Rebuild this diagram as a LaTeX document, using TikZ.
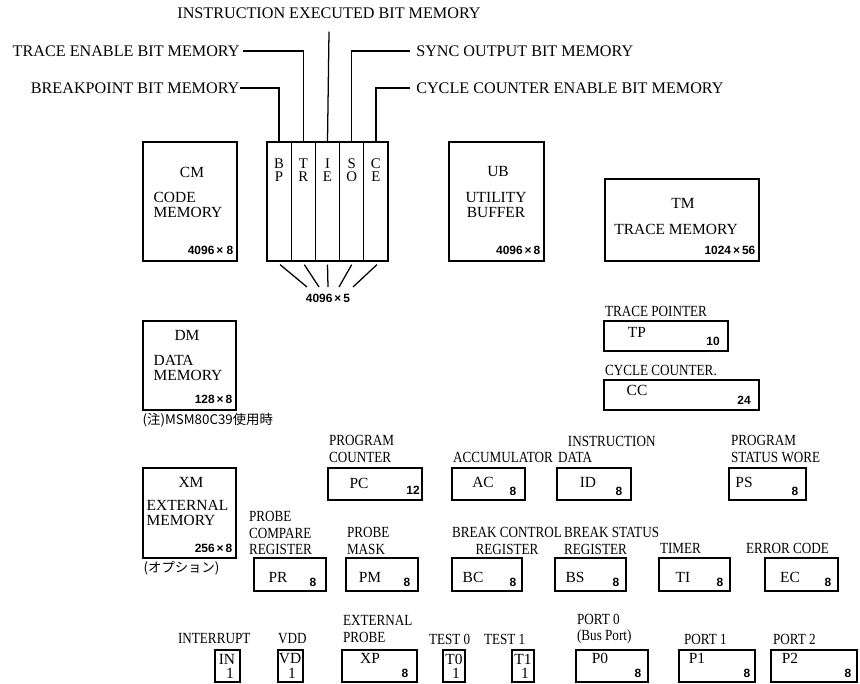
\documentclass[tikz,border=0pt]{standalone}
\usepackage{fontspec}
\setmainfont{Liberation Serif}
\newfontfamily\lblfont{Liberation Serif}[FakeStretch=0.85]
\newfontfamily\numfont{Liberation Sans}
\newfontfamily\jpfont{Noto Sans CJK JP}

\tikzset{
  box/.style 2 args={draw,line width=0.9pt,inner sep=0pt,minimum width=#1,minimum height=#2},
  reg/.style={box={#1}{0.8cm}},
  prt/.style={box={#1}{0.8cm}},
  toplbl/.style={inner sep=2pt,font=\fontsize{11.5}{12}\selectfont},
  lbl/.style={inner sep=1pt,align=left,font=\lblfont\fontsize{11}{11.5}\selectfont},
  nm/.style={inner sep=0pt,font=\fontsize{11}{11}\selectfont},
  sz/.style={inner sep=0pt,font=\numfont\bfseries\fontsize{8.5}{9}\selectfont},
  jp/.style={inner sep=0pt,anchor=west,font=\jpfont\fontsize{9.5}{10}\selectfont},
}

\begin{document}
\begin{tikzpicture}[x=0.025cm,y=-0.025cm,line width=0.9pt]
\useasboundingbox (0,0) rectangle (860,683);

% bit memories
\node[box={0.605cm}{2.975cm}] (bp) at (279.1,201.5) {};
\node[box={0.605cm}{2.975cm}] (tr) at (303.3,201.5) {};
\node[box={0.605cm}{2.975cm}] (ie) at (327.5,201.5) {};
\node[box={0.605cm}{2.975cm}] (so) at (351.7,201.5) {};
\node[box={0.605cm}{2.975cm}] (ce) at (375.9,201.5) {};
\node[nm,align=center,font=\fontsize{10.5}{9.5}\selectfont] (tbp) at (279.1,170) {B\\P};
\node[nm,align=center,font=\fontsize{10.5}{9.5}\selectfont] (ttr) at (303.3,170) {T\\R};
\node[nm,align=center,font=\fontsize{10.5}{9.5}\selectfont] (tie) at (327.5,170) {I\\E};
\node[nm,align=center,font=\fontsize{10.5}{9.5}\selectfont] (tso) at (351.7,170) {S\\O};
\node[nm,align=center,font=\fontsize{10.5}{9.5}\selectfont] (tce) at (375.9,170) {C\\E};
\node[sz] (bitsz) at (328,298) {4096\,×\,5};

\node[toplbl] (lie) at (329,13) {INSTRUCTION EXECUTED BIT MEMORY};
\node[toplbl,anchor=east] (lte) at (243,51) {TRACE ENABLE BIT MEMORY};
\node[toplbl,anchor=east,inner sep=0pt] (lbp) at (240,88) {BREAKPOINT BIT MEMORY};
\node[toplbl,anchor=west,inner sep=4pt] (lso) at (410,51) {SYNC OUTPUT BIT MEMORY};
\node[toplbl,anchor=west,inner sep=4pt] (lce) at (410,88) {CYCLE COUNTER ENABLE BIT MEMORY};

\draw (lbp.east) -| (bp.north);
\draw (lte.east) -| (tr.north);
\draw ([yshift=-7pt]lie.south) -- (ie.north);
\draw (lso.west) -| (so.north);
\draw (lce.west) -| (ce.north);

\draw ([shift={(1,3)}]bp.south) -- ([shift={(-21,-11)}]bitsz.center);
\draw ([shift={(1,3)}]tr.south) -- ([shift={(-9,-11)}]bitsz.center);
\draw ([shift={(0,3)}]ie.south) -- ([shift={(0,-11)}]bitsz.center);
\draw ([shift={(0,3)}]so.south) -- ([shift={(11,-11)}]bitsz.center);
\draw ([shift={(1,3)}]ce.south) -- ([shift={(25,-11)}]bitsz.center);

% memories
\node[box={2.35cm}{2.975cm}] (cm) at (190,201.5) {};
\node[nm] (cmt) at (192,172) {CM};
\node[nm,anchor=west,align=left] (cmn) at (153,205) {CODE\\MEMORY};
\node[sz,anchor=east] (cms) at (234,250) {4096\,×\ 8};

\node[box={2.375cm}{2.975cm}] (ub) at (496.5,201.5) {};
\node[nm] (ubt) at (498,172) {UB};
\node[nm,align=center] (ubn) at (496,205) {UTILITY\\BUFFER};
\node[sz,anchor=east] (ubs) at (541,250) {4096\,×\,8};

\node[box={3.85cm}{2.05cm}] (tm) at (682,220) {};
\node[nm] (tmt) at (683,203) {TM};
\node[nm] (tmn) at (676,229) {TRACE MEMORY};
\node[sz,anchor=east] (tms) at (756,250) {1024\,×\,56};

\node[lbl,anchor=west] (ltp) at (603,311) {TRACE POINTER};
\node[box={3.1cm}{0.75cm}] (tp) at (666,336) {};
\node[nm] (tpn) at (637,332) {TP};
\node[sz] (tps) at (713,341) {10};
\node[lbl,anchor=west] (lcc) at (603,370) {CYCLE COUNTER.};
\node[box={3.875cm}{0.75cm}] (cc) at (681.5,395) {};
\node[nm] (ccn) at (637,390) {CC};
\node[sz] (ccs) at (744,400) {24};

\node[box={2.325cm}{2.225cm}] (dm) at (189.5,365.5) {};
\node[nm] (dmt) at (187,335) {DM};
\node[nm,anchor=west,align=left] (dmn) at (153,368) {DATA\\MEMORY};
\node[sz,anchor=east] (dms) at (233,399) {128\,×\,8};
\node[jp] (dmnote) at (142,420) {(注)MSM80C39使用時};

\node[box={2.325cm}{2.25cm}] (xm) at (189.5,513) {};
\node[nm] (xmt) at (191,482) {XM};
\node[nm,anchor=west,align=left] (xmn) at (146,513) {EXTERNAL\\MEMORY};
\node[sz,anchor=east] (xms) at (233,548) {256\,×\,8};
\node[jp] (xmnote) at (143,568) {(オプション)};

% registers
\node[lbl,anchor=west] (lpc) at (327,449) {PROGRAM\\COUNTER};
\node[reg=2.35cm] (pc) at (375,484) {};
\node[nm] (pcn) at (359,483) {PC};
\node[sz] (pcs) at (413,490) {12};
\node[lbl,anchor=west] (lac) at (451,457) {ACCUMULATOR};
\node[reg=1.825cm] (ac) at (488.5,484) {};
\node[nm] (acn) at (483,482) {AC};
\node[sz] (acs) at (513,491) {8};
\node[lbl,anchor=west] (lid) at (556,449) {\hspace*{7pt}INSTRUCTION\\DATA};
\node[reg=1.85cm] (id) at (594,484) {};
\node[nm] (idn) at (588,482) {ID};
\node[sz] (ids) at (619,491) {8};
\node[lbl,anchor=west] (lps) at (729,449) {PROGRAM\\STATUS WORE};
\node[reg=1.925cm] (ps) at (767.5,484) {};
\node[nm] (psn) at (744,482) {PS};
\node[sz] (pss) at (795,491) {8};

\node[lbl,anchor=west] (lpr) at (247,533) {PROBE\\COMPARE\\REGISTER};
\node[box={1.8cm}{0.825cm}] (pr) at (290,574.5) {};
\node[nm] (prn) at (278,577) {PR};
\node[sz] (prs) at (313,582) {8};
\node[lbl,anchor=west] (lpm) at (345,541) {PROBE\\MASK};
\node[box={1.8cm}{0.825cm}] (pm) at (382,574.5) {};
\node[nm] (pmn) at (370,577) {PM};
\node[sz] (pms) at (407,582) {8};
\node[lbl,anchor=west,align=center] (lbc) at (450,541) {BREAK CONTROL\\REGISTER};
\node[box={1.75cm}{0.825cm}] (bc) at (487,574.5) {};
\node[nm] (bcn) at (473,577) {BC};
\node[sz] (bcs) at (513,582) {8};
\node[lbl,anchor=west] (lbs) at (562,541) {BREAK STATUS\\REGISTER};
\node[box={1.775cm}{0.825cm}] (bs) at (590.5,574.5) {};
\node[nm] (bsn) at (575,577) {BS};
\node[sz] (bss) at (616,582) {8};
\node[lbl,anchor=west] (lti) at (658,548) {TIMER};
\node[box={1.775cm}{0.825cm}] (ti) at (694.5,574.5) {};
\node[nm] (tin) at (683,577) {TI};
\node[sz] (tis) at (720,582) {8};
\node[lbl,anchor=west] (lec) at (744,548) {ERROR CODE};
\node[box={1.825cm}{0.825cm}] (ec) at (801.5,574.5) {};
\node[nm] (ecn) at (790,577) {EC};
\node[sz] (ecs) at (828,582) {8};

% ports
\node[lbl,anchor=west] (lin) at (176,639) {INTERRUPT};
\node[prt=0.625cm] (in) at (227.5,666) {};
\node[nm] (inn) at (227,659) {IN};
\node[nm] (ins) at (230,673) {1};
\node[lbl,anchor=west] (lvd) at (276,639) {VDD};
\node[prt=0.625cm] (vd) at (290.5,666) {};
\node[nm] (vdn) at (290,659) {VD};
\node[nm] (vds) at (292,673) {1};
\node[lbl,anchor=west] (lxp) at (341,629) {EXTERNAL\\PROBE};
\node[prt=1.875cm] (xp) at (379.5,666) {};
\node[nm] (xpn) at (370,658) {XP};
\node[sz] (xps) at (405,673) {8};
\node[lbl,anchor=west] (lt0) at (427,639) {TEST 0};
\node[prt=0.55cm] (t0) at (454,666) {};
\node[nm] (t0n) at (454,659) {T0};
\node[nm] (t0s) at (456,673) {1};
\node[lbl,anchor=west] (lt1) at (482,639) {TEST 1};
\node[prt=0.55cm] (t1) at (523,666) {};
\node[nm] (t1n) at (523,659) {T1};
\node[nm] (t1s) at (525,673) {1};
\node[lbl,anchor=west] (lp0) at (575,629) {PORT 0\\(Bus Port)};
\node[prt=1.8cm] (p0) at (612,666) {};
\node[nm] (p0n) at (600,658) {P0};
\node[sz] (p0s) at (638,673) {8};
\node[lbl,anchor=west] (lp1) at (682,639) {PORT 1};
\node[prt=1.9cm] (p1) at (717,666) {};
\node[nm] (p1n) at (697,658) {P1};
\node[sz] (p1s) at (747,673) {8};
\node[lbl,anchor=west] (lp2) at (771,639) {PORT 2};
\node[prt=2.15cm] (p2) at (814,666) {};
\node[nm] (p2n) at (790,658) {P2};
\node[sz] (p2s) at (848,673) {8};
\end{tikzpicture}
\end{document}
